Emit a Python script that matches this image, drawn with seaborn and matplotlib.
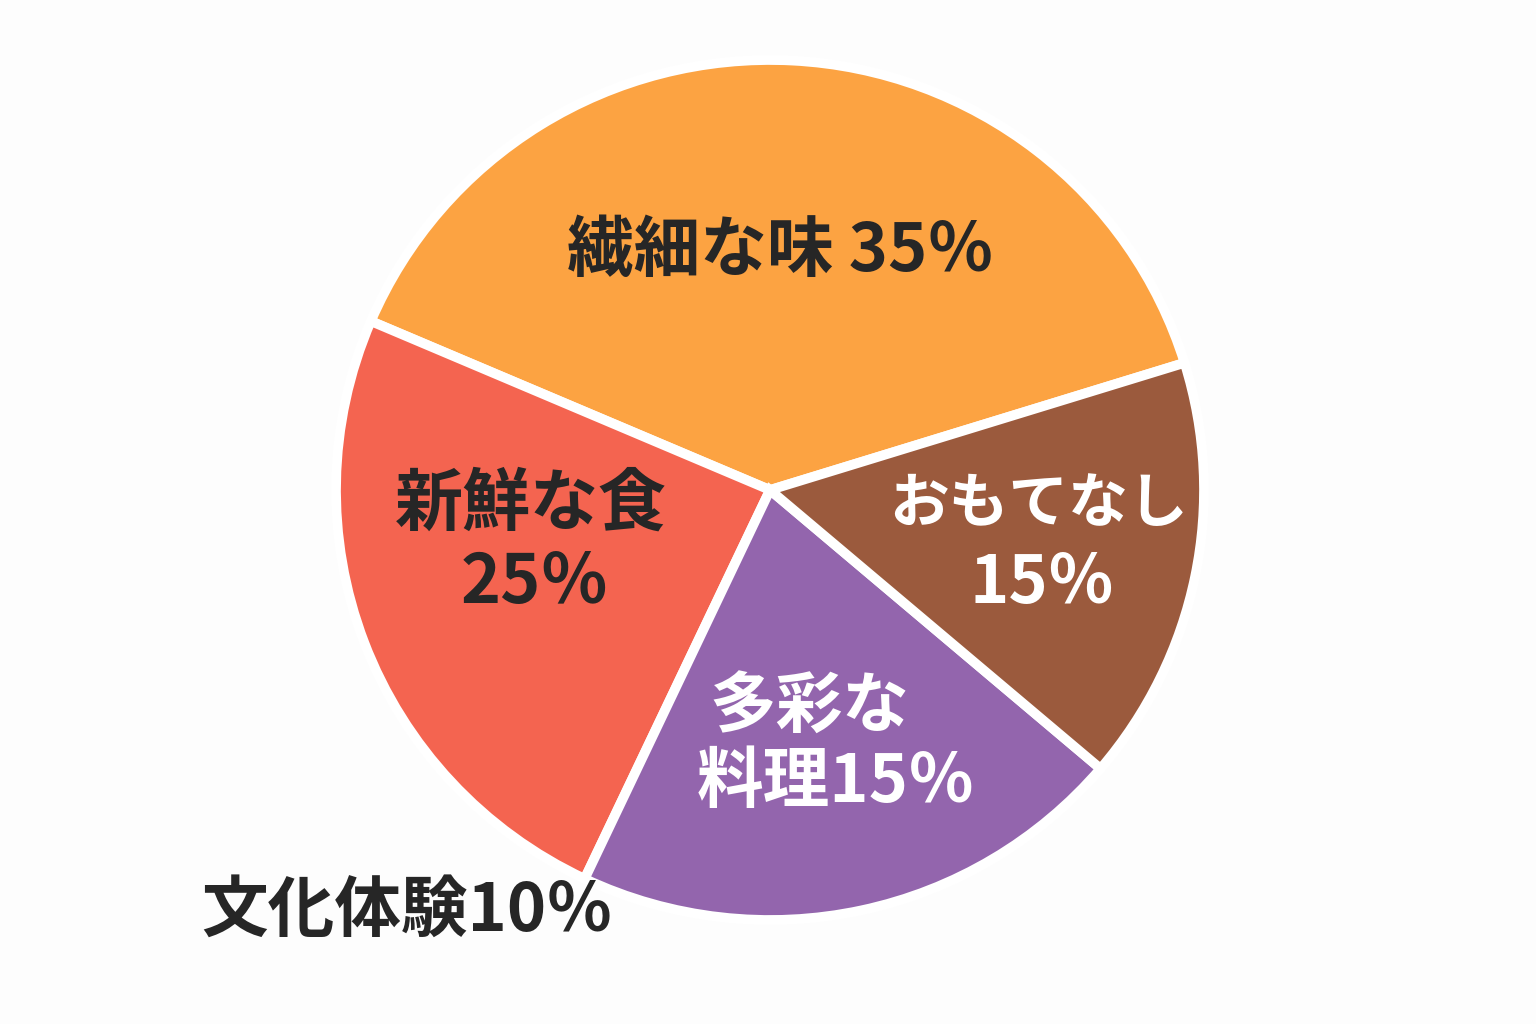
import matplotlib
matplotlib.use("Agg")
import matplotlib.pyplot as plt
import seaborn as sns

# wedge order: orange, red, purple, brown (counter-clockwise from the right)
categories = ["繊細な味", "新鮮な食", "多彩な料理", "おもてなし"]
label_pct = [35, 25, 15, 15]
# wedge sizes as they appear in the picture (in % of the circle)
wedge_share = [38.8, 24.4, 20.8, 16.0]
colors = ["#FCA342", "#F46450", "#9365AD", "#9B5A3D"]

# label outside the pie
extra_label = "文化体験"
extra_pct = 10

sns.set_theme(style="white")
plt.rcParams["font.family"] = ["Noto Sans CJK JP", "DejaVu Sans"]

W, H = 1536, 1024
cx, cy = 770, 490     # pie centre in pixels
RX, RY = 434, 430     # slightly larger: the white edge eats ~3px of the rim

fig = plt.figure(figsize=(W / 100, H / 100), dpi=100, facecolor="#FDFDFD")
ax = fig.add_axes([0, 0, 1, 1])
ax.set_facecolor("#FDFDFD")

ax.pie(
    wedge_share,
    colors=colors,
    startangle=17.2,
    counterclock=True,
    radius=1.0,
    wedgeprops=dict(edgecolor="white", linewidth=7),
)
ax.set_xlim(-cx / RX, (W - cx) / RX)
ax.set_ylim(-(H - cy) / RY, cy / RY)
ax.set_aspect("auto")
ax.axis("off")


def px(x, y):
    return (x - cx) / RX, (cy - y) / RY


dark = "#262626"
txt = dict(fontweight="bold", ha="center", va="center")

ax.text(*px(780, 251), f"{categories[0]} {label_pct[0]}％", fontsize=48, color=dark, **txt)
ax.text(*px(531, 505), categories[1], fontsize=49, color=dark, **txt)
ax.text(*px(535, 583), f"{label_pct[1]}％", fontsize=49, color=dark, **txt)
ax.text(*px(809, 708), categories[2][:3], fontsize=48, color="white", **txt)
ax.text(*px(836, 782), f"{categories[2][3:]}{label_pct[2]}％", fontsize=48, color="white", **txt)
ax.text(*px(1038, 505), categories[3], fontsize=43, color="white", **txt)
ax.text(*px(1042, 583), f"{label_pct[3]}％", fontsize=48, color="white", **txt)
ax.text(*px(407, 911), f"{extra_label}{extra_pct}％", fontsize=48, color=dark, **txt)

fig.savefig("out.png", dpi=100, facecolor=fig.get_facecolor())
